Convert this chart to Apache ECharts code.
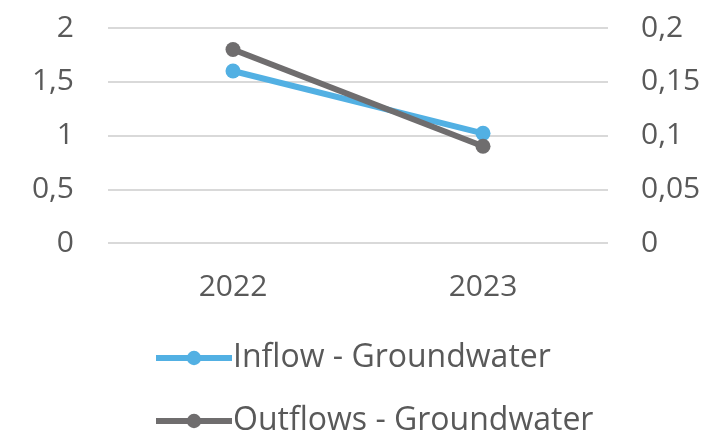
<!DOCTYPE html>
<html><head><meta charset="utf-8">
<script src="https://cdn.jsdelivr.net/npm/echarts@6/dist/echarts.min.js"></script>
<style>html,body{margin:0;padding:0;background:#fff}#c{width:712px;height:436px}</style>
</head><body><div id="c"></div>
<script>
var categories = ['2022', '2023'];
var inflow = [1.6, 1.02];
var outflows = [0.18, 0.09];
var leftTicks = {min: 0, max: 2, interval: 0.5};
var rightTicks = {min: 0, max: 0.2, interval: 0.05};
var seriesNames = ['Inflow - Groundwater', 'Outflows - Groundwater'];

var fmt = function (v) { return String(+v.toFixed(4)).replace('.', ','); };
var font = '"Open Sans", sans-serif';
var textColor = '#595959';
var legendBase = function (name, top) {
  return {
    left: 153, top: top, padding: 0,
    itemWidth: 76, itemHeight: 18,
    lineStyle: {width: 6},
    textStyle: {fontSize: 32, color: textColor, fontFamily: font, padding: [0, 0, 0, -4]},
    data: [name]
  };
};
var chart = echarts.init(document.getElementById('c'));
chart.setOption({
  animation: false,
  grid: {left: 108, right: 104, top: 28, bottom: 193},
  legend: [legendBase(seriesNames[0], 342), legendBase(seriesNames[1], 405)],
  xAxis: {
    type: 'category', data: categories, boundaryGap: true,
    axisLine: {show: false}, axisTick: {show: false},
    axisLabel: {fontSize: 30, color: textColor, fontFamily: font, margin: 29}
  },
  yAxis: [
    {type: 'value', min: leftTicks.min, max: leftTicks.max, interval: leftTicks.interval,
     axisLine: {show: false}, axisTick: {show: false},
     splitLine: {lineStyle: {color: '#d9d9d9', width: 2}},
     axisLabel: {fontSize: 30, color: textColor, fontFamily: font, margin: 34, formatter: fmt}},
    {type: 'value', min: rightTicks.min, max: rightTicks.max, interval: rightTicks.interval,
     axisLine: {show: false}, axisTick: {show: false}, splitLine: {show: false},
     axisLabel: {fontSize: 30, color: textColor, fontFamily: font, margin: 33, formatter: fmt}}
  ],
  series: [
    {name: seriesNames[0], type: 'line', yAxisIndex: 0, data: inflow,
     symbol: 'circle', symbolSize: 15,
     lineStyle: {color: '#52B0E3', width: 6}, itemStyle: {color: '#52B0E3'}},
    {name: seriesNames[1], type: 'line', yAxisIndex: 1, data: outflows,
     symbol: 'circle', symbolSize: 15,
     lineStyle: {color: '#6F6D6E', width: 6}, itemStyle: {color: '#6F6D6E'}}
  ]
});
</script></body></html>
